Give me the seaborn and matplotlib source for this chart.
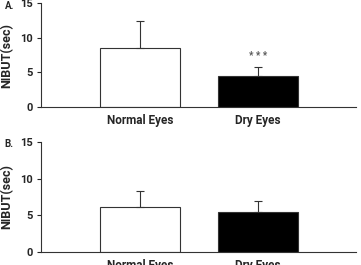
# NIBUT bar charts, two panels
import numpy as np
import matplotlib.pyplot as plt
import seaborn as sns
import pandas as pd

sns.set_style('ticks')
plt.rcParams['font.family'] = ['Roboto', 'DejaVu Sans']
plt.rcParams['font.weight'] = 'bold'

groups = ['Normal Eyes', 'Dry Eyes']
colors = ['white', 'black']

# panel A
nibut_a = [8.6, 4.5]
sd_a = [3.8, 1.3]
# panel B
nibut_b = [6.1, 5.5]
sd_b = [2.2, 1.4]

fig = plt.figure(figsize=(3.61, 2.65), dpi=100)
ax1 = fig.add_axes([0.1136, 0.596, 0.873, 0.392])
ax2 = fig.add_axes([0.1136, 0.049, 0.873, 0.415])

def panel(ax, vals, sds, label, stars=None):
    df = pd.DataFrame({'group': groups, 'nibut': vals})
    sns.barplot(data=df, x='group', y='nibut', hue='group', palette=colors,
                edgecolor='#333333', linewidth=0.8, width=0.68, legend=False, ax=ax)
    ax.errorbar(range(len(vals)), vals, yerr=[np.zeros(len(sds)), sds], fmt='none',
                ecolor='#333333', elinewidth=0.8, capsize=3, capthick=0.8)
    if stars:
        ax.text(1, vals[1] + sds[1] + 0.9, stars, ha='center', va='bottom',
                fontsize=7, color='#555555')
    ax.set_ylim(0, 15)
    ax.set_yticks([0, 5, 10, 15])
    ax.set_xlim(-0.84, 1.83)
    ax.set_xlabel('')
    ax.set_ylabel('NIBUT(sec)', fontsize=9, fontweight='bold', labelpad=5)
    ax.tick_params(axis='y', labelsize=8, length=3, width=0.8, pad=3)
    ax.tick_params(axis='x', labelsize=8.5, length=0, pad=5)
    for t in ax.get_xticklabels() + ax.get_yticklabels():
        t.set_fontweight('bold')
    sns.despine(ax=ax)
    for s in ['left', 'bottom']:
        ax.spines[s].set_linewidth(0.8)
        ax.spines[s].set_color('#333333')
    ax.text(-0.115, 1.025, label, transform=ax.transAxes, fontsize=7,
            fontweight='bold', ha='left', va='top')

panel(ax1, nibut_a, sd_a, 'A.', stars='* * *')
panel(ax2, nibut_b, sd_b, 'B.')

fig.savefig('out.png', dpi=100)
